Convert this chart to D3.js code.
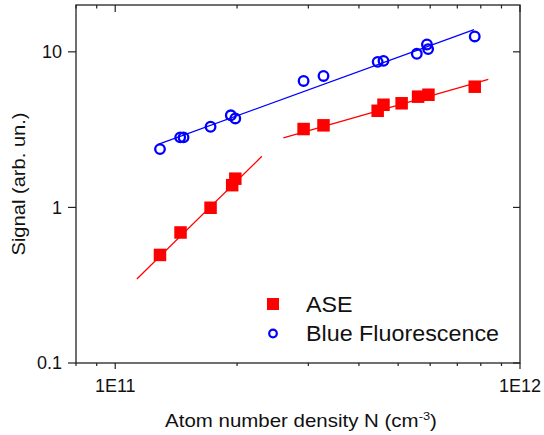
<!DOCTYPE html>
<html>
<head>
<meta charset="utf-8">
<script src="https://cdn.jsdelivr.net/npm/d3@7"></script>
<style>
  body { margin: 0; background: #fff; }
  svg { display: block; font-family: "Liberation Sans", Arial, sans-serif; }
</style>
</head>
<body>
<svg width="544" height="435"></svg>
<script>
// ASE (red squares)
const aseN = [1.29e11, 1.45e11, 1.72e11, 1.945e11, 1.98e11, 2.92e11, 3.27e11, 4.45e11, 4.6e11, 5.1e11, 5.6e11, 5.94e11, 7.73e11];
const aseS = [0.495, 0.69, 0.995, 1.39, 1.53, 3.19, 3.37, 4.18, 4.57, 4.67, 5.15, 5.30, 5.97];
// Blue fluorescence (open circles)
const blueN = [1.29e11, 1.447e11, 1.475e11, 1.72e11, 1.93e11, 1.98e11, 2.92e11, 3.27e11, 4.45e11, 4.6e11, 5.56e11, 5.89e11, 5.93e11, 7.73e11];
const blueS = [2.37, 2.82, 2.82, 3.30, 3.91, 3.73, 6.5, 7.0, 8.62, 8.75, 9.71, 11.15, 10.41, 12.56];
// fit lines (end points)
const blueFitN = [1.276e11, 7.70e11], blueFitS = [2.54, 13.87];
const aseFitLowN = [1.131e11, 2.303e11], aseFitLowS = [0.347, 2.13];
const aseFitHighN = [2.603e11, 8.35e11], aseFitHighS = [2.80, 6.66];

const yTicks = [0.1, 1, 10];
const yTickLabels = ["0.1", "1", "10"];
const xMajor = [1e11, 1e12];
const xMajorLabels = ["1E11", "1E12"];
const xMinor = [8e10, 9e10, 2e11, 3e11, 4e11, 5e11, 6e11, 7e11, 8e11, 9e11];

const svg = d3.select("svg");
const pLeft = 76, pRight = 520, pTop = 5, pBottom = 363;

const x = d3.scaleLog().domain([8e10, 1e12]).range([pLeft, pRight]);
const y = d3.scaleLog().domain([0.1, 20]).range([pBottom, pTop]);

const axisColor = "#222";
const g = svg.append("g");

// frame
g.append("rect")
  .attr("x", pLeft).attr("y", pTop)
  .attr("width", pRight - pLeft).attr("height", pBottom - pTop)
  .attr("fill", "none").attr("stroke", axisColor).attr("stroke-width", 1.3);

// x ticks: bottom outward, top inward
xMajor.forEach(v => {
  g.append("line").attr("x1", x(v)).attr("x2", x(v)).attr("y1", pBottom).attr("y2", pBottom + 6)
    .attr("stroke", axisColor).attr("stroke-width", 1.2);
  g.append("line").attr("x1", x(v)).attr("x2", x(v)).attr("y1", pTop).attr("y2", pTop + 7)
    .attr("stroke", axisColor).attr("stroke-width", 1.2);
});
xMinor.forEach(v => {
  g.append("line").attr("x1", x(v)).attr("x2", x(v)).attr("y1", pBottom).attr("y2", pBottom + 3)
    .attr("stroke", axisColor).attr("stroke-width", 1.2);
  g.append("line").attr("x1", x(v)).attr("x2", x(v)).attr("y1", pTop).attr("y2", pTop + 3.5)
    .attr("stroke", axisColor).attr("stroke-width", 1.2);
});
g.selectAll(".xlab").data(xMajor).enter().append("text")
  .attr("x", d => x(d)).attr("y", 392)
  .attr("text-anchor", "middle").attr("font-size", 18).attr("fill", "#111")
  .text((d, i) => xMajorLabels[i]);

// y ticks: left outward, right inward
yTicks.forEach(v => {
  g.append("line").attr("x1", pLeft - 8).attr("x2", pLeft).attr("y1", y(v)).attr("y2", y(v))
    .attr("stroke", axisColor).attr("stroke-width", 1.2);
  g.append("line").attr("x1", pRight - 7).attr("x2", pRight).attr("y1", y(v)).attr("y2", y(v))
    .attr("stroke", axisColor).attr("stroke-width", 1.2);
});
g.selectAll(".ylab").data(yTicks).enter().append("text")
  .attr("x", 62).attr("y", d => y(d)).attr("dy", "0.36em")
  .attr("text-anchor", "end").attr("font-size", 18).attr("fill", "#111")
  .text((d, i) => yTickLabels[i]);

// axis titles
const xt = g.append("text")
  .attr("transform", "translate(301,427) scale(1.17,1)")
  .attr("text-anchor", "middle").attr("font-size", 17.5).attr("fill", "#111");
xt.append("tspan").text("Atom number density N (cm");
xt.append("tspan").attr("font-size", 11).attr("dy", -7).text("-3");
xt.append("tspan").attr("dy", 7).text(")");

g.append("text")
  .attr("transform", "translate(25,184) rotate(-90) scale(1.15,1)")
  .attr("text-anchor", "middle").attr("font-size", 17.5).attr("fill", "#111")
  .text("Signal (arb. un.)");

// fit lines
const line = d3.line().x(d => x(d[0])).y(d => y(d[1]));
g.append("path").datum(d3.zip(blueFitN, blueFitS)).attr("d", line)
  .attr("fill", "none").attr("stroke", "#0000ff").attr("stroke-width", 1.3);
g.append("path").datum(d3.zip(aseFitLowN, aseFitLowS)).attr("d", line)
  .attr("fill", "none").attr("stroke", "#ff0000").attr("stroke-width", 1.3);
g.append("path").datum(d3.zip(aseFitHighN, aseFitHighS)).attr("d", line)
  .attr("fill", "none").attr("stroke", "#ff0000").attr("stroke-width", 1.3);

// markers
const sq = 12.5;
g.selectAll(".ase").data(d3.zip(aseN, aseS)).enter().append("rect")
  .attr("x", d => x(d[0]) - sq / 2).attr("y", d => y(d[1]) - sq / 2)
  .attr("width", sq).attr("height", sq).attr("fill", "#ff0000");
g.selectAll(".blue").data(d3.zip(blueN, blueS)).enter().append("circle")
  .attr("cx", d => x(d[0])).attr("cy", d => y(d[1])).attr("r", 4.8)
  .attr("fill", "none").attr("stroke", "#0000ff").attr("stroke-width", 2.3);

// legend
const leg = g.append("g");
leg.append("rect").attr("x", 273 - 6).attr("y", 304 - 6).attr("width", 12).attr("height", 12).attr("fill", "#ff0000");
leg.append("text").attr("transform", "translate(306,312) scale(1.06,1)").attr("font-size", 22).attr("fill", "#111").text("ASE");
leg.append("circle").attr("cx", 273).attr("cy", 333.5).attr("r", 3.8)
  .attr("fill", "none").attr("stroke", "#0000ff").attr("stroke-width", 2.2);
leg.append("text").attr("transform", "translate(306,341) scale(1.06,1)").attr("font-size", 22).attr("fill", "#111").text("Blue Fluorescence");
</script>
</body>
</html>
